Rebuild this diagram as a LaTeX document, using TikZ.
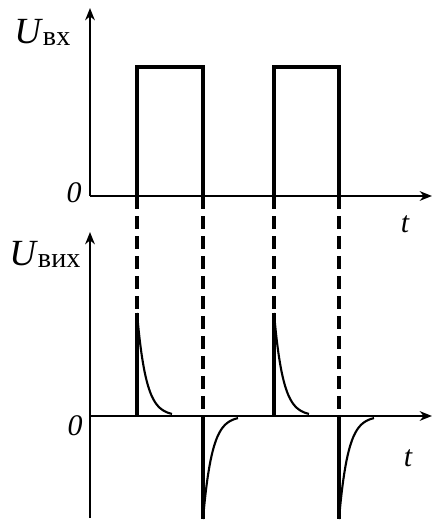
\documentclass[tikz,border=0pt]{standalone}
\usepackage{fontspec}
\setmainfont{Liberation Serif}
\usetikzlibrary{arrows.meta, positioning, calc}
\tikzset{
  axis/.style={line width=1pt, -{Stealth[length=7pt, width=5.5pt]}},
  signal/.style={line width=1.8pt},
  decay/.style={line width=1.2pt},
  guide/.style={line width=1.8pt, dash pattern=on 7.4pt off 4pt},
  lbl/.style={inner sep=0pt, font=\fontsize{17}{17}\selectfont\itshape},
  ulbl/.style={inner sep=0pt, anchor=base west, font=\fontsize{21}{21}\selectfont},
}
\newcommand{\subsc}[1]{\raisebox{-1.7pt}{\fontsize{16}{16}\selectfont\upshape #1}}
\newcommand{\inpulse}[2]{%
  \draw[signal] (#1,196) -- (#1,67) -- (#2,67) -- (#2,196);
}
\newcommand{\outspike}[2]{%
  \begin{scope}[shift={(#1,416)}, yscale=#2]
    \draw[signal] (0,0) -- (0,-103);
    \draw[decay] plot[domain=0:35, samples=60, smooth] (\x,{-103*exp(-\x/9)});
  \end{scope}%
}

\begin{document}
\begin{tikzpicture}[x=0.02cm, y=-0.02cm]
    \useasboundingbox (0,0) rectangle (433,521);

    % input axes
    \coordinate (inO) at (90,196);
    \coordinate (inY) at (90,8);
    \coordinate (inT) at (432,196);
    \draw[axis] (inO) -- (inY);
    \draw[axis] (inO) -- (inT);
    \node[ulbl] (inlbl) at (14,43) {\textit{U}\subsc{вх}};
    \node[lbl] (inzero) at (74,193) {0};
    \node[lbl] (int) at (405,224) {t};

    % output axes
    \coordinate (outO) at (90,416);
    \coordinate (outB) at (90,518);
    \coordinate (outY) at (90,232);
    \coordinate (outT) at (432,416);
    \draw[axis] (outB) -- (outY);
    \draw[axis] (outO) -- (outT);
    \node[ulbl] (outlbl) at (9,265) {\textit{U}\subsc{вих}};
    \node[lbl] (outzero) at (75,426) {0};
    \node[lbl] (outt) at (408,458) {t};

    % pulses, guides and spikes
    \foreach \a/\b in {137/203, 274/339} {
      \inpulse{\a}{\b}
      \draw[guide] (\a,196) -- (\a,313);
      \draw[guide] (\b,196) -- (\b,416);
      \outspike{\a}{1}
      \outspike{\b}{-1}
    }
\end{tikzpicture}
\end{document}
